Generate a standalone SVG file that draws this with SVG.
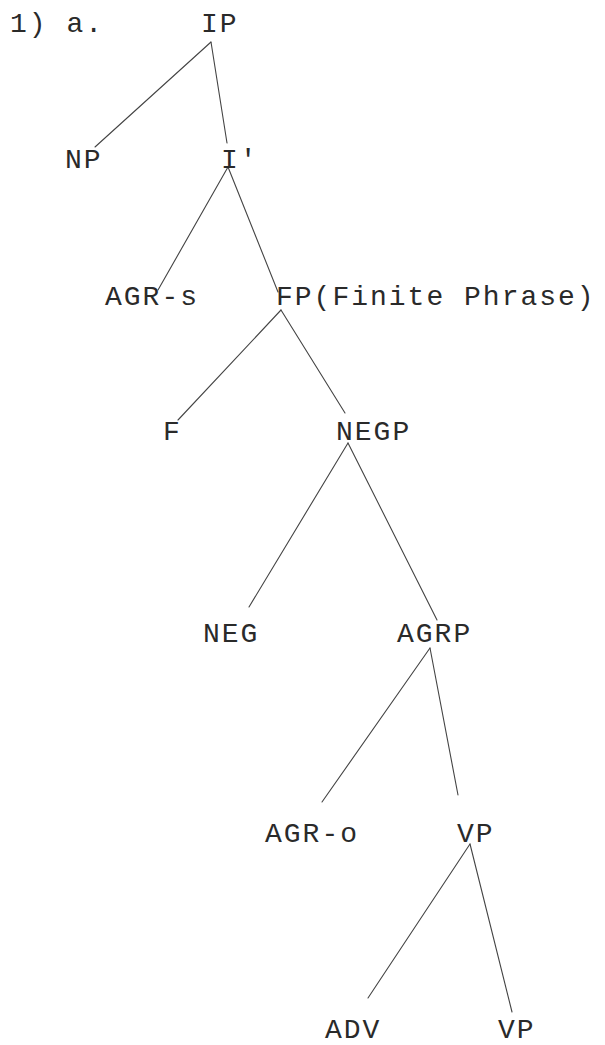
<svg xmlns="http://www.w3.org/2000/svg" width="605" height="1045" viewBox="0 0 605 1045">
<style>
  .lbl { font-family: "Liberation Mono", "Courier New", monospace; font-size: 28px; letter-spacing: 2px; fill: #2a2a2a; }
  .edge { stroke: #444; stroke-width: 1.1; fill: none; stroke-linecap: round; }
</style>
<rect width="605" height="1045" fill="#ffffff"/>
<g id="example-label"><text class="lbl" x="10" y="32">1) a.</text></g>
<g id="connectors">
  <line class="edge" x1="211" y1="42" x2="95" y2="147"/>
  <line class="edge" x1="211" y1="42" x2="227" y2="143"/>
  <line class="edge" x1="228" y1="167" x2="158" y2="290"/>
  <line class="edge" x1="228" y1="167" x2="278" y2="292"/>
  <line class="edge" x1="281" y1="310" x2="178" y2="420"/>
  <line class="edge" x1="281" y1="310" x2="345" y2="413"/>
  <line class="edge" x1="348" y1="443" x2="249" y2="607"/>
  <line class="edge" x1="348" y1="443" x2="437" y2="620"/>
  <line class="edge" x1="430" y1="648" x2="322" y2="802"/>
  <line class="edge" x1="430" y1="648" x2="458" y2="795"/>
  <line class="edge" x1="470" y1="844" x2="368" y2="998"/>
  <line class="edge" x1="470" y1="844" x2="512" y2="1012"/>
</g>
<g id="node-IP"><text class="lbl" x="201" y="32">IP</text></g>
<g id="node-NP"><text class="lbl" x="65" y="168">NP</text></g>
<g id="node-Ibar"><text class="lbl" x="221" y="168">I'</text></g>
<g id="node-AGR-s"><text class="lbl" x="105" y="305">AGR-s</text></g>
<g id="node-FP"><text class="lbl" x="276" y="305">FP(Finite Phrase)</text></g>
<g id="node-F"><text class="lbl" x="163" y="440">F</text></g>
<g id="node-NEGP"><text class="lbl" x="336" y="440">NEGP</text></g>
<g id="node-NEG"><text class="lbl" x="203" y="642">NEG</text></g>
<g id="node-AGRP"><text class="lbl" x="397" y="642">AGRP</text></g>
<g id="node-AGR-o"><text class="lbl" x="265" y="842">AGR-o</text></g>
<g id="node-VP1"><text class="lbl" x="457" y="842">VP</text></g>
<g id="node-ADV"><text class="lbl" x="325" y="1038">ADV</text></g>
<g id="node-VP2"><text class="lbl" x="498" y="1038">VP</text></g>
</svg>
